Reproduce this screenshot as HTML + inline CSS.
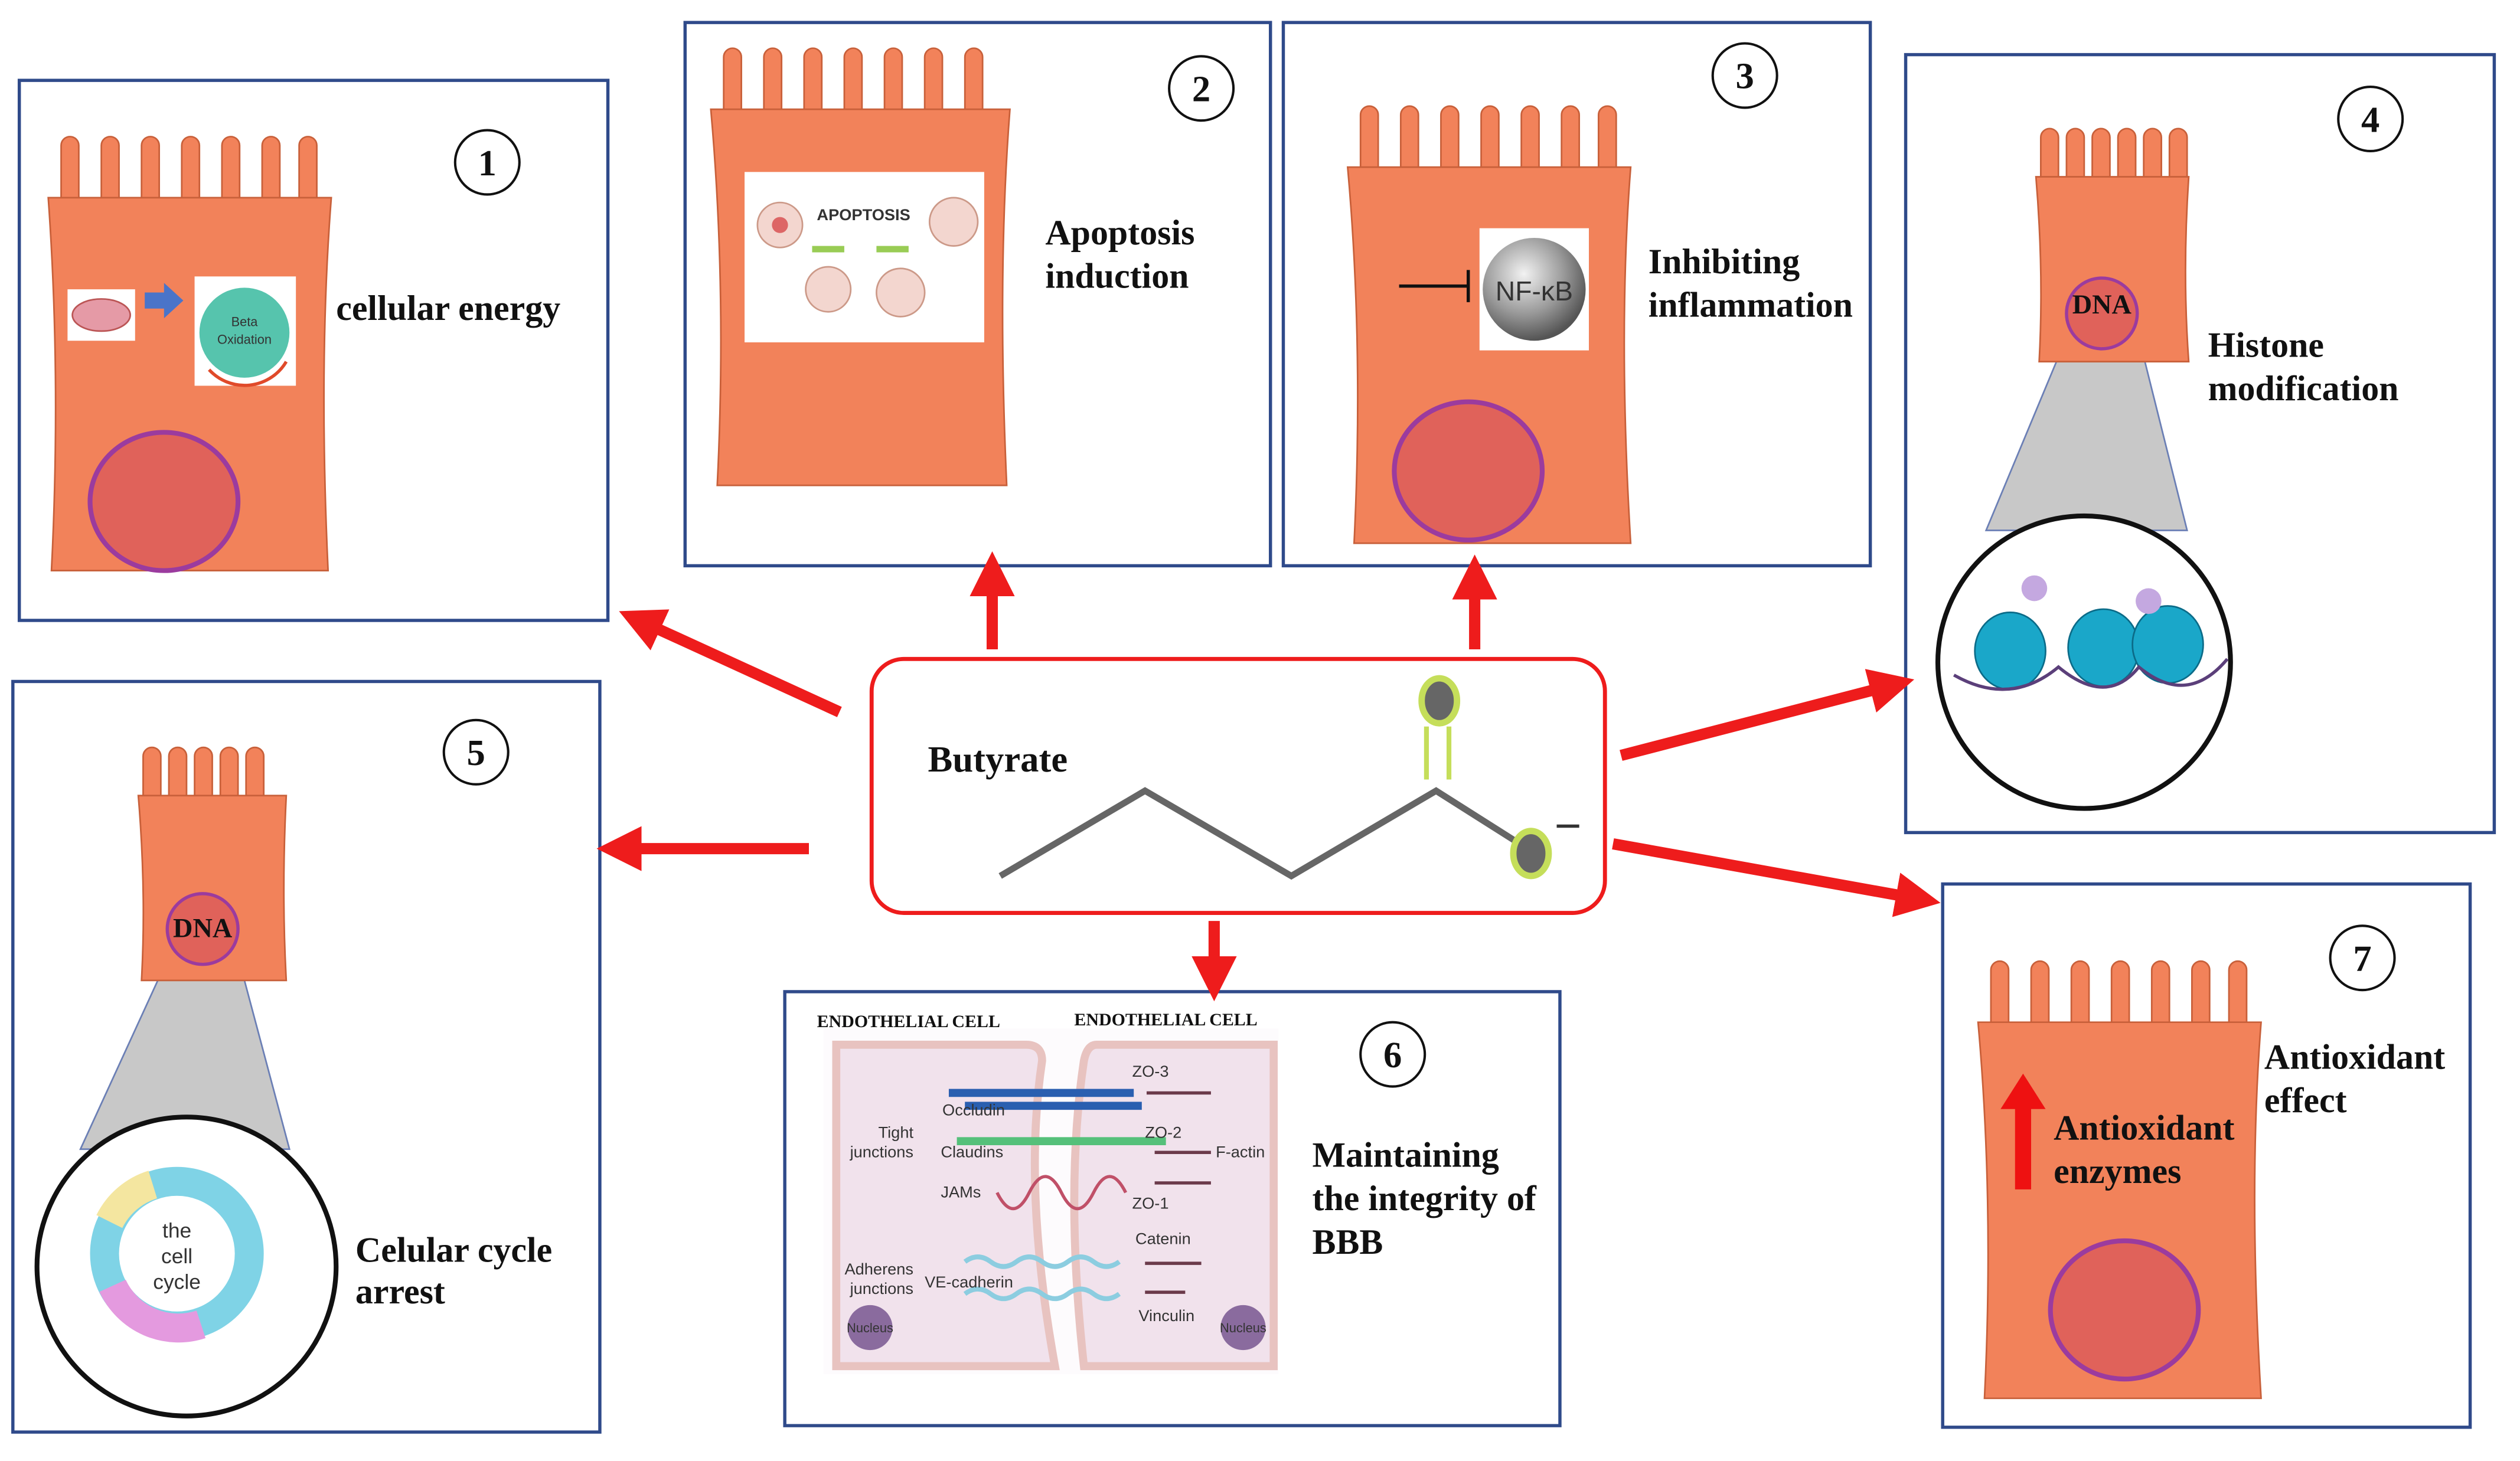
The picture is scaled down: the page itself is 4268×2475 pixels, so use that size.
<!DOCTYPE html>
<html><head><meta charset="utf-8"><style>
html,body{margin:0;padding:0;background:#fff;}
svg{display:block;}
.t{font-family:"Liberation Serif",serif;font-weight:bold;fill:#111;}
.s{font-family:"Liberation Sans",sans-serif;fill:#333;}
</style></head><body>
<svg width="4268" height="2475" viewBox="0 0 1567 909" preserveAspectRatio="none" xmlns="http://www.w3.org/2000/svg">
<defs>
<radialGradient id="sph" cx="40%" cy="35%" r="65%"><stop offset="0" stop-color="#f2f2f2"/><stop offset="0.6" stop-color="#999"/><stop offset="1" stop-color="#555"/></radialGradient>
<marker id="ah" markerWidth="4" markerHeight="4" refX="1" refY="2" orient="auto" markerUnits="strokeWidth"><path d="M0,0 L4,2 L0,4 z" fill="#ee1c1c"/></marker>
<g id="villus"><rect x="0" y="0" width="11" height="44" rx="5.5" fill="#f2825a" stroke="#c8603a" stroke-width="1"/></g>
</defs>
<rect width="1567" height="909" fill="#fff"/>
<g fill="none" stroke="#2f4a8a" stroke-width="2">
<rect x="12" y="50" width="366" height="336"/>
<rect x="426" y="14" width="364" height="338"/>
<rect x="798" y="14" width="365" height="338"/>
<rect x="1185" y="34" width="366" height="484"/>
<rect x="8" y="424" width="365" height="467"/>
<rect x="488" y="617" width="482" height="270"/>
<rect x="1208" y="550" width="328" height="338"/>
</g>
<g>
<g transform="translate(28,85)"><use href="#villus" x="10"/><use href="#villus" x="35"/><use href="#villus" x="60"/><use href="#villus" x="85"/><use href="#villus" x="110"/><use href="#villus" x="135"/><use href="#villus" x="158"/>
<path d="M2,38 L178,38 Q170,140 176,270 L4,270 Q10,150 2,38z" fill="#f2825a" stroke="#c8603a"/></g>
<ellipse cx="102" cy="312" rx="46" ry="43" fill="#e0625a" stroke="#9b3b9e" stroke-width="3"/>
<rect x="42" y="180" width="42" height="32" fill="#fff"/><ellipse cx="63" cy="196" rx="18" ry="10" fill="#e59aa6" stroke="#b55"/>
<path d="M90,182 h12 v-6 l12,11 l-12,11 v-6 h-12z" fill="#4a74c9"/>
<rect x="121" y="172" width="63" height="68" fill="#fff"/><circle cx="152" cy="207" r="28" fill="#56c4ad"/><path d="M130,230 A30,30 0 0 0 178,225" stroke="#e04a2a" stroke-width="2" fill="none"/>
<text x="152" y="203" class="s" font-size="8" text-anchor="middle" fill="#fff">Beta</text><text x="152" y="214" class="s" font-size="8" text-anchor="middle" fill="#fff">Oxidation</text>
<g transform="translate(440,30)"><use href="#villus" x="10"/><use href="#villus" x="35"/><use href="#villus" x="60"/><use href="#villus" x="85"/><use href="#villus" x="110"/><use href="#villus" x="135"/><use href="#villus" x="160"/>
<path d="M2,38 L188,38 Q180,140 186,272 L6,272 Q12,150 2,38z" fill="#f2825a" stroke="#c8603a"/></g>
<rect x="463" y="107" width="149" height="106" fill="#fff"/>
<text x="537" y="137" class="s" font-size="10" font-weight="bold" fill="#d23" text-anchor="middle">APOPTOSIS</text>
<circle cx="485" cy="140" r="14" fill="#f3d6cf" stroke="#c98"/><circle cx="485" cy="140" r="5" fill="#d66"/>
<circle cx="593" cy="138" r="15" fill="#f3d6cf" stroke="#c98"/><circle cx="515" cy="180" r="14" fill="#f3d6cf" stroke="#c98"/><circle cx="560" cy="182" r="15" fill="#f3d6cf" stroke="#c98"/>
<path d="M505,155 l20,0 M545,155 l20,0" stroke="#9c5" stroke-width="4"/>
<g transform="translate(836,66)"><use href="#villus" x="10"/><use href="#villus" x="35"/><use href="#villus" x="60"/><use href="#villus" x="85"/><use href="#villus" x="110"/><use href="#villus" x="135"/><use href="#villus" x="158"/>
<path d="M2,38 L178,38 Q170,140 178,272 L6,272 Q12,150 2,38z" fill="#f2825a" stroke="#c8603a"/></g>
<ellipse cx="913" cy="293" rx="46" ry="43" fill="#e0625a" stroke="#9b3b9e" stroke-width="3"/>
<rect x="920" y="142" width="68" height="76" fill="#fff"/><circle cx="954" cy="180" r="32" fill="url(#sph)"/>
<text x="954" y="187" class="s" font-size="17" text-anchor="middle" fill="#111">NF-κB</text>
<path d="M870,178 H913 M913,168 V188" stroke="#111" stroke-width="2"/>
<path d="M1285,210 L1330,210 L1360,330 L1235,330z" fill="#c8c8c8" stroke="#6b7fb5"/>
<g transform="translate(1265,80)"><use href="#villus" x="4"/><use href="#villus" x="20"/><use href="#villus" x="36"/><use href="#villus" x="52"/><use href="#villus" x="68"/><use href="#villus" x="84"/>
<path d="M1,30 L96,30 Q92,90 96,145 L3,145 Q6,90 1,30z" fill="#f2825a" stroke="#c8603a"/></g>
<circle cx="1307" cy="195" r="22" fill="#e0625a" stroke="#9b3b9e" stroke-width="2"/>
<text x="1307" y="195" class="t" font-size="17" text-anchor="middle">DNA</text>
<circle cx="1296" cy="412" r="91" fill="#fff" stroke="#111" stroke-width="3"/>
<g fill="#1aa7c9" stroke="#0b6b88"><ellipse cx="1250" cy="405" rx="22" ry="24"/><ellipse cx="1308" cy="403" rx="22" ry="24"/><ellipse cx="1348" cy="401" rx="22" ry="24"/></g>
<path d="M1215,420 Q1250,440 1280,415 Q1310,440 1330,415 Q1360,440 1385,410" stroke="#5b3f7a" stroke-width="2" fill="none"/>
<circle cx="1265" cy="366" r="8" fill="#c4a8e0"/><circle cx="1336" cy="374" r="8" fill="#c4a8e0"/>
<path d="M105,595 L148,595 L180,715 L50,715z" fill="#c8c8c8" stroke="#6b7fb5"/>
<g transform="translate(85,465)"><use href="#villus" x="4"/><use href="#villus" x="20"/><use href="#villus" x="36"/><use href="#villus" x="52"/><use href="#villus" x="68"/>
<path d="M1,30 L93,30 Q90,90 93,145 L3,145 Q6,90 1,30z" fill="#f2825a" stroke="#c8603a"/></g>
<circle cx="126" cy="578" r="22" fill="#e0625a" stroke="#9b3b9e" stroke-width="2"/>
<text x="126" y="583" class="t" font-size="17" text-anchor="middle">DNA</text>
<circle cx="116" cy="788" r="93" fill="#fff" stroke="#111" stroke-width="3"/>
<circle cx="110" cy="780" r="45" fill="none" stroke="#7fd3e6" stroke-width="18"/>
<path d="M70,800 A45,45 0 0 0 125,824" stroke="#e49adf" stroke-width="18" fill="none"/>
<path d="M68,760 A45,45 0 0 1 95,737" stroke="#f4e6a0" stroke-width="18" fill="none"/>
<text x="110" y="770" class="s" font-size="13" text-anchor="middle" fill="#555">the</text><text x="110" y="786" class="s" font-size="13" text-anchor="middle" fill="#555">cell</text><text x="110" y="802" class="s" font-size="13" text-anchor="middle" fill="#555">cycle</text>
<g transform="translate(1228,598)"><use href="#villus" x="10"/><use href="#villus" x="35"/><use href="#villus" x="60"/><use href="#villus" x="85"/><use href="#villus" x="110"/><use href="#villus" x="135"/><use href="#villus" x="158"/>
<path d="M2,38 L178,38 Q170,140 178,272 L6,272 Q12,150 2,38z" fill="#f2825a" stroke="#c8603a"/></g>
<ellipse cx="1321" cy="815" rx="46" ry="43" fill="#e0625a" stroke="#9b3b9e" stroke-width="3"/>
<path d="M1258,668 L1272,690 H1263 V740 H1253 V690 H1244z" fill="#e11"/>
</g>
<g>
<rect x="512" y="640" width="283" height="215" fill="#fdfbfd"/>
<path d="M520,650 h118 q10,0 10,10 q-12,80 8,190 h-136z" fill="#f1e2ec" stroke="#e8c3c0" stroke-width="5"/>
<path d="M682,650 h110 v200 h-118 q-12,-110 0,-190 q2,-10 8,-10z" fill="#f1e2ec" stroke="#e8c3c0" stroke-width="5"/>
<path d="M590,680 h115 M600,688 h110" stroke="#2a5fb0" stroke-width="5"/>
<path d="M595,710 h130" stroke="#55c07a" stroke-width="5"/>
<path d="M620,742 q10,20 20,0 t20,0 t20,0 t20,0" stroke="#c05068" stroke-width="2" fill="none"/>
<path d="M600,785 q8,-6 16,0 t16,0 t16,0 t16,0 t16,0 t16,0 M600,805 q8,-6 16,0 t16,0 t16,0 t16,0 t16,0 t16,0" stroke="#8ccde0" stroke-width="3" fill="none"/>
<circle cx="541" cy="826" r="14" fill="#8a6b9e"/><circle cx="773" cy="826" r="14" fill="#8a6b9e"/>
<text x="541" y="829" class="s" font-size="8" text-anchor="middle">Nucleus</text><text x="773" y="829" class="s" font-size="8" text-anchor="middle">Nucleus</text>
<g class="s" font-size="10">
<text x="586" y="694">Occludin</text><text x="585" y="720">Claudins</text><text x="585" y="745">JAMs</text>
<text x="568" y="708" text-anchor="end">Tight</text><text x="568" y="720" text-anchor="end">junctions</text>
<text x="568" y="793" text-anchor="end">Adherens</text><text x="568" y="805" text-anchor="end">junctions</text>
<text x="575" y="801">VE-cadherin</text>
<text x="704" y="670">ZO-3</text><text x="712" y="708">ZO-2</text><text x="756" y="720">F-actin</text><text x="704" y="752">ZO-1</text>
<text x="706" y="774">Catenin</text><text x="708" y="822">Vinculin</text>
</g>
<path d="M713,680 h40 M718,717 h35 M718,736 h35 M712,786 h35 M712,804 h25" stroke="#6b3a4a" stroke-width="2"/>
<text x="508" y="639" class="t" font-size="11">ENDOTHELIAL  CELL</text>
<text x="668" y="638" class="t" font-size="11">ENDOTHELIAL  CELL</text>
</g>
<g fill="#fff" stroke="#111" stroke-width="1.5">
<circle cx="303" cy="101" r="20"/><circle cx="747" cy="55" r="20"/><circle cx="1085" cy="47" r="20"/><circle cx="1474" cy="74" r="20"/>
<circle cx="296" cy="468" r="20"/><circle cx="866" cy="656" r="20"/><circle cx="1469" cy="596" r="20"/>
</g>
<g class="t" font-size="23" text-anchor="middle">
<text x="303" y="109">1</text><text x="747" y="63">2</text><text x="1085" y="55">3</text><text x="1474" y="82">4</text>
<text x="296" y="476">5</text><text x="866" y="664">6</text><text x="1469" y="604">7</text>
</g>
<g class="t" font-size="22">
<text x="209" y="199">cellular energy</text>
<text x="650" y="152">Apoptosis</text><text x="650" y="179">induction</text>
<text x="1025" y="170">Inhibiting</text><text x="1025" y="197">inflammation</text>
<text x="1373" y="222">Histone</text><text x="1373" y="249">modification</text>
<text x="221" y="785">Celular cycle</text><text x="221" y="811">arrest</text>
<text x="816" y="726">Maintaining</text><text x="816" y="753">the integrity of</text><text x="816" y="780">BBB</text>
<text x="1408" y="665">Antioxidant</text><text x="1408" y="692">effect</text>
<text x="1277" y="709">Antioxidant</text><text x="1277" y="736">enzymes</text>
</g>
<rect x="542" y="410" width="456" height="158" rx="20" fill="#fff" stroke="#ee1c1c" stroke-width="2.5"/>
<text x="577" y="480" class="t" font-size="23">Butyrate</text>
<polyline points="622,545 712,492 803,545 893,492 945,525" fill="none" stroke="#666" stroke-width="4"/>
<path d="M887,485 V452 M901,485 V452" stroke="#c5de5a" stroke-width="3"/>
<ellipse cx="895" cy="436" rx="11" ry="14" fill="#666" stroke="#c5de5a" stroke-width="4"/>
<ellipse cx="952" cy="531" rx="11" ry="14" fill="#666" stroke="#c5de5a" stroke-width="4"/>
<path d="M968,514 h14" stroke="#333" stroke-width="2"/>
<g stroke="#ee1c1c" stroke-width="7" fill="none" marker-end="url(#ah)">
<line x1="522" y1="443" x2="404" y2="389"/>
<line x1="617" y1="404" x2="617" y2="364"/>
<line x1="917" y1="404" x2="917" y2="366"/>
<line x1="1008" y1="470" x2="1170" y2="428"/>
<line x1="503" y1="528" x2="392" y2="528"/>
<line x1="755" y1="573" x2="755" y2="602"/>
<line x1="1003" y1="525" x2="1186" y2="558"/>
</g>
</svg>
</body></html>
